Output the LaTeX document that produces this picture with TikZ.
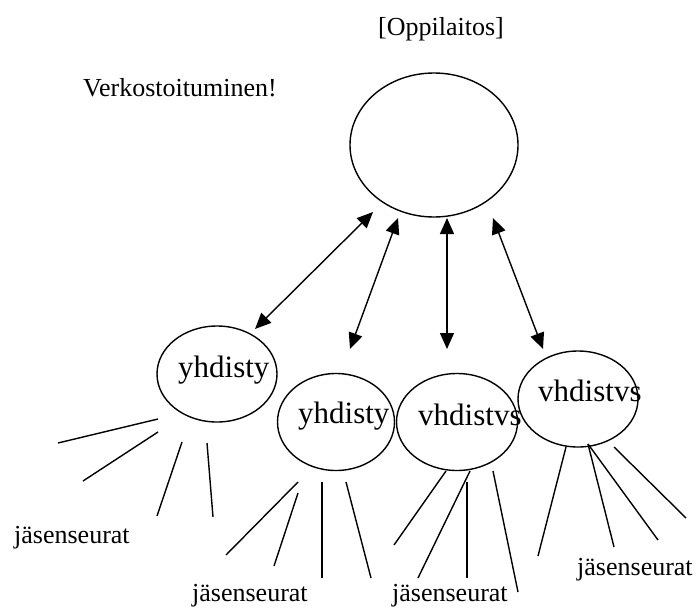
\documentclass[tikz,border=0pt]{standalone}
\usepackage{fontspec}
\setmainfont{Liberation Serif}
\usetikzlibrary{shapes.geometric,arrows.meta}
\begin{document}
\begin{tikzpicture}[x=1pt,y=-1pt,
  ell/.style={draw,ellipse,line width=1.4pt,inner sep=0pt},
  lbl/.style={anchor=base west,inner sep=0pt,font=\fontsize{26}{26}\selectfont},
  big/.style={anchor=base west,inner sep=0pt,font=\fontsize{31}{31}\selectfont},
  link/.style={line width=1.4pt,{Triangle[length=16pt,width=14pt]}-{Triangle[length=16pt,width=14pt]}},
  spoke/.style={line width=1.4pt}]
\useasboundingbox (0,0) rectangle (696,608);
% texts
\node[lbl] (opp) at (378,35) {[Oppilaitos]};
\node[lbl] (verk) at (83,96) {Verkostoituminen!};
% ellipses
\node[ell,minimum width=168pt,minimum height=144pt] (top) at (434,145) {};
\node[ell,minimum width=120pt,minimum height=96pt] (e1) at (217,374) {};
\node[ell,minimum width=117pt,minimum height=97pt] (e2) at (336,422) {};
\node[ell,minimum width=121pt,minimum height=97pt] (e3) at (457,422) {};
\node[ell,minimum width=120pt,minimum height=96pt] (e4) at (578,399) {};
\node[big] (t1) at (178,377) {yhdisty};
\node[big] (t2) at (298,423) {yhdisty};
\node[big] (t3) at (418,425) {vhdistvs};
\node[big] (t4) at (538,401) {vhdistvs};
% arrow ends
\coordinate (a1s) at (373,212); \coordinate (a1e) at (255,329);
\coordinate (a2s) at (398,218); \coordinate (a2e) at (350,349);
\coordinate (a3s) at (447,218); \coordinate (a3e) at (447,349);
\coordinate (a4s) at (493,218); \coordinate (a4e) at (543,349);
\draw[link] (a1s) -- (a1e);
\draw[link] (a2s) -- (a2e);
\draw[link] (a3s) -- (a3e);
\draw[link] (a4s) -- (a4e);
% spokes left
\draw[spoke] (158,419) -- (58,443);
\draw[spoke] (158,432) -- (83,481);
\draw[spoke] (182,442) -- (157,516);
\draw[spoke] (207,443) -- (213,517);
% spokes middle 1
\draw[spoke] (298,482) -- (226,555);
\draw[spoke] (298,493) -- (274,566);
\draw[spoke] (322,482) -- (322,578);
\draw[spoke] (346,482) -- (371,578);
% spokes middle 2
\draw[spoke] (446,471) -- (394,545);
\draw[spoke] (470,471) -- (418,578);
\draw[spoke] (467,482) -- (467,578);
\draw[spoke] (493,471) -- (518,592);
% spokes right
\draw[spoke] (566,447) -- (538,556);
\draw[spoke] (588,444) -- (614,547);
\draw[spoke] (588,444) -- (658,540);
\draw[spoke] (614,447) -- (686,518);
% member labels
\node[lbl] (m1) at (14,543) {jäsenseurat};
\node[lbl] (m2) at (192,601) {jäsenseurat};
\node[lbl] (m3) at (392,601) {jäsenseurat};
\node[lbl] (m4) at (577,575) {jäsenseurat};
\end{tikzpicture}
\end{document}
